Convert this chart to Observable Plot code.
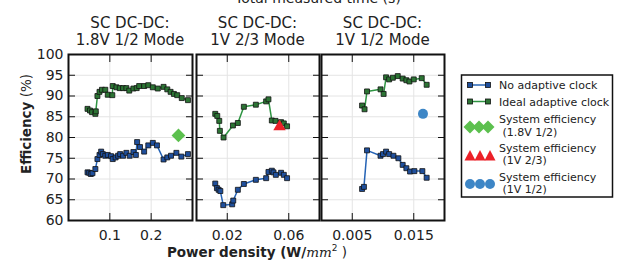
<!DOCTYPE html>
<html><head><meta charset="utf-8">
<script src="https://cdn.jsdelivr.net/npm/d3@7"></script>
<script src="https://cdn.jsdelivr.net/npm/@observablehq/plot@0.6"></script>
<style>
body{margin:0;width:622px;height:261px;overflow:hidden;background:#fff;font-family:"DejaVu Sans",sans-serif;}
#root{position:relative;width:622px;height:261px;overflow:hidden;}
.abs{position:absolute;white-space:nowrap;color:#222;}
.ttl{font-size:15px;text-align:center;line-height:17px;width:160px;}
svg{overflow:visible;}
</style></head><body><div id="root"></div>
<script>
// ---------- data ----------
const yTicks = [60, 65, 70, 75, 80, 85, 90, 95, 100];
const yTickLabels = ["60","65","70","75","80","85","90","95","100"];

const p1Title = ["SC DC-DC:", "1.8V 1/2 Mode"];
const p1XTicks = [0.1, 0.2];
const p1XTickLabels = ["0.1", "0.2"];
const p1IdealX = [0.046,0.052,0.057,0.065,0.066,0.070,0.075,0.081,0.089,0.095,0.106,0.107,0.116,0.124,0.132,0.140,0.147,0.157,0.165,0.171,0.183,0.193,0.204,0.216,0.230,0.239,0.247,0.255,0.263,0.274,0.289];
const p1IdealY = [86.9,86.5,86.1,85.7,86.3,90.0,91.0,91.5,91.5,90.3,90.2,92.4,92.1,91.9,91.9,91.9,91.3,91.8,91.9,92.4,92.4,92.6,92.1,91.8,92.2,91.6,91.0,90.5,90.2,89.5,89.0];
const p1NoAdX = [0.046,0.050,0.054,0.058,0.065,0.070,0.075,0.079,0.083,0.089,0.095,0.103,0.107,0.114,0.120,0.125,0.132,0.140,0.148,0.157,0.163,0.166,0.173,0.183,0.193,0.204,0.214,0.230,0.239,0.248,0.261,0.273,0.289];
const p1NoAdY = [71.6,71.5,71.2,71.4,72.4,74.8,75.8,76.6,76.0,75.6,75.8,75.5,74.8,75.2,75.6,76.0,75.6,76.3,75.6,76.5,75.8,78.9,77.7,76.6,78.1,78.7,78.1,74.7,75.2,75.6,76.3,75.4,76.0];
const p1SysX = [0.266];
const p1SysY = [80.5];

const p2Title = ["SC DC-DC:", "1V 2/3 Mode"];
const p2XTicks = [0.02, 0.06];
const p2XTickLabels = ["0.02", "0.06"];
const p2IdealX = [0.0122,0.0135,0.0148,0.0152,0.0176,0.0237,0.0269,0.0308,0.0386,0.0453,0.0468,0.0490,0.0514,0.0550,0.0568,0.0589];
const p2IdealY = [85.7,85.2,84.0,81.6,80.0,82.9,83.5,87.4,87.9,88.7,89.2,84.1,84.0,83.7,83.4,82.7];
const p2NoAdX = [0.0122,0.0133,0.0144,0.0155,0.0174,0.0232,0.0239,0.0269,0.0308,0.0386,0.0453,0.0468,0.0490,0.0501,0.0516,0.0550,0.0568,0.0589];
const p2NoAdY = [68.9,67.8,67.4,67.1,63.7,63.9,64.8,67.4,68.8,69.8,70.2,71.7,72.0,71.6,71.0,71.5,71.0,70.2];
const p2SysX = [0.054];
const p2SysY = [82.6];

const p3Title = ["SC DC-DC:", "1V 1/2 Mode"];
const p3XTicks = [0.005, 0.015];
const p3XTickLabels = ["0.005", "0.015"];
const p3IdealX = [0.0066,0.0070,0.0074,0.0096,0.0101,0.0105,0.0110,0.0116,0.0124,0.0132,0.0138,0.0143,0.0150,0.0163,0.0171];
const p3IdealY = [87.7,86.8,91.1,91.6,90.5,94.5,94.0,94.4,94.8,94.2,93.8,93.5,94.0,94.3,92.7];
const p3NoAdX = [0.0066,0.0069,0.0074,0.0096,0.0100,0.0105,0.0110,0.0117,0.0125,0.0132,0.0138,0.0144,0.0151,0.0164,0.0171];
const p3NoAdY = [67.6,68.1,76.9,75.6,76.0,76.6,76.0,75.6,75.0,73.4,72.6,71.8,71.9,71.9,70.3];
const p3SysX = [0.0165];
const p3SysY = [85.7];

const legendLabels = ["No adaptive clock", "Ideal adaptive clock", ["System efficiency", " (1.8V 1/2)"], ["System efficiency", " (1V 2/3)"], ["System efficiency", " (1V 1/2)"]];
const topTitle = "Total measured time (s)";
const yLabel = ["Efficiency", " (%)"];
const xLabel = ["Power density (W/", "mm", "2", " )"];

// ---------- styles ----------
const blueLine = "#2563b5", blueFill = "#1f4f9c";
const greenLine = "#2e9442", greenFill = "#2c7434";
const diamondCol = "#5cc04e", triCol = "#ec2028", circCol = "#3d86c6";
const gridCol = "#e4e4e4";

const zip = (xs, ys) => xs.map((x, i) => ({x, y: ys[i]}));

function panel(o) {
  const ideal = zip(o.idealX, o.idealY), noAd = zip(o.noAdX, o.noAdY), sys = zip(o.sysX, o.sysY);
  const fmt = (d, i) => o.xLabels[o.xTicks.indexOf(d)];
  const yfmt = (d) => yTickLabels[yTicks.indexOf(d)];
  return Plot.plot({
    width: o.width, height: 261,
    marginLeft: o.marginLeft, marginRight: 2, marginTop: 54, marginBottom: 41,
    x: {domain: o.xDomain, label: null},
    y: {domain: [60, 100], label: null},
    style: {fontFamily: "DejaVu Sans", fontSize: "14px", background: "transparent", color: "#222", overflow: "visible"},
    marks: [
      Plot.gridX(o.xTicks, {stroke: gridCol, strokeOpacity: 1, strokeWidth: 1}),
      Plot.gridY(yTicks.slice(1, -1), {stroke: gridCol, strokeOpacity: 1, strokeWidth: 1}),
      Plot.line(ideal, {x: "x", y: "y", stroke: greenLine, strokeWidth: 1.5}),
      Plot.dot(ideal, {x: "x", y: "y", symbol: "square", r: 2.8, fill: greenFill, stroke: "#111", strokeWidth: 0.8}),
      Plot.line(noAd, {x: "x", y: "y", stroke: blueLine, strokeWidth: 1.5}),
      Plot.dot(noAd, {x: "x", y: "y", symbol: "square", r: 2.8, fill: blueFill, stroke: "#111", strokeWidth: 0.8}),
      Plot.dot(sys, {x: "x", y: "y", symbol: o.sysSymbol, r: o.sysR, fill: o.sysColor, stroke: "none"}),
      Plot.axisX(o.xTicks, {anchor: "bottom", tickSize: 0, tickPadding: 10, tickFormat: fmt, fontSize: 14, label: null}),
      Plot.axisX(o.xTicks, {anchor: "bottom", tickSize: -7, fill: "none", label: null, stroke: "#111"}),
      Plot.axisX(o.xTicks, {anchor: "top", tickSize: -7, fill: "none", label: null, stroke: "#111"}),
      Plot.axisY(yTicks.slice(1, -1), {anchor: "left", tickSize: -7, fill: "none", label: null, stroke: "#111"}),
      Plot.axisY(yTicks.slice(1, -1), {anchor: "right", tickSize: -7, fill: "none", label: null, stroke: "#111"}),
      o.showY ? Plot.axisY(yTicks, {anchor: "left", tickSize: 0, tickPadding: 5, tickFormat: yfmt, fontSize: 14, label: null}) : null,
      Plot.frame({stroke: "#111", strokeWidth: 2})
    ]
  });
}

const root = document.getElementById("root");
function place(el, left, top) { el.style.position = "absolute"; el.style.left = left + "px"; el.style.top = top + "px"; root.appendChild(el); }

place(panel({idealX: p1IdealX, idealY: p1IdealY, noAdX: p1NoAdX, noAdY: p1NoAdY, sysX: p1SysX, sysY: p1SysY,
  xTicks: p1XTicks, xLabels: p1XTickLabels, xDomain: [0, 0.3], width: 194, marginLeft: 68, showY: true,
  sysSymbol: "diamond2", sysR: 6.2, sysColor: diamondCol}), 0, 0);
place(panel({idealX: p2IdealX, idealY: p2IdealY, noAdX: p2NoAdX, noAdY: p2NoAdY, sysX: p2SysX, sysY: p2SysY,
  xTicks: p2XTicks, xLabels: p2XTickLabels, xDomain: [0, 0.08], width: 127, marginLeft: 2, showY: false,
  sysSymbol: "triangle", sysR: 4.6, sysColor: triCol}), 194, 0);
place(panel({idealX: p3IdealX, idealY: p3IdealY, noAdX: p3NoAdX, noAdY: p3NoAdY, sysX: p3SysX, sysY: p3SysY,
  xTicks: p3XTicks, xLabels: p3XTickLabels, xDomain: [0, 0.02], width: 127, marginLeft: 2, showY: false,
  sysSymbol: "circle", sysR: 5, sysColor: circCol}), 319, 0);

// titles
function title(lines, cx) {
  const d = document.createElement("div");
  d.className = "abs ttl";
  d.innerHTML = lines.join("<br>");
  d.style.left = (cx - 80) + "px"; d.style.top = "15px";
  root.appendChild(d);
}
title(p1Title, 130); title(p2Title, 257.5); title(p3Title, 382.5);

const tt = document.createElement("div");
tt.className = "abs"; tt.style.cssText += "font-size:14px;left:235px;top:-10px;";
tt.textContent = topTitle; root.appendChild(tt);

// y label
const yl = document.createElement("div");
yl.className = "abs";
yl.style.cssText += "font-size:13.5px;left:26px;top:124px;transform:translate(-50%,-50%) rotate(-90deg);";
yl.innerHTML = `<b>${yLabel[0]}</b>${yLabel[1]}`;
root.appendChild(yl);

// x label
const xl = document.createElement("div");
xl.className = "abs";
xl.style.cssText += "font-size:13.5px;line-height:15px;left:257px;top:252px;transform:translate(-50%,-50%);";
xl.innerHTML = `<b>${xLabel[0]}</b><i style="font-family:'DejaVu Serif',serif;">${xLabel[1]}</i><sup style="font-size:9px;line-height:0;">${xLabel[2]}</sup>${xLabel[3]}`;
root.appendChild(xl);

// legend
const ns = "http://www.w3.org/2000/svg";
const lg = document.createElementNS(ns, "svg");
lg.setAttribute("width", 622); lg.setAttribute("height", 261);
lg.style.cssText = "position:absolute;left:0;top:0;font-family:'DejaVu Sans';font-size:11px;";
let h = `<rect x="461.5" y="75" width="151" height="122" fill="#fff" stroke="#111" stroke-width="1.5"/>`;
const sq = (x, y, f) => `<rect x="${x-2.5}" y="${y-2.5}" width="5" height="5" fill="${f}" stroke="#111" stroke-width="0.8"/>`;
h += `<line x1="470" x2="488" y1="85" y2="85" stroke="${blueLine}" stroke-width="1.5"/>` + sq(470,85,blueFill) + sq(488,85,blueFill);
h += `<line x1="470" x2="488" y1="101.5" y2="101.5" stroke="${greenLine}" stroke-width="1.5"/>` + sq(470,101.5,greenFill) + sq(488,101.5,greenFill);
const txt = (x, y, s) => `<text x="${x}" y="${y}" fill="#222" xml:space="preserve">${s}</text>`;
h += txt(499, 89, legendLabels[0]) + txt(499, 105.5, legendLabels[1]);
[470, 479, 488].forEach(x => h += `<path d="M${x},${127-6.5}L${x+6.5},127L${x},${127+6.5}L${x-6.5},127Z" fill="${diamondCol}"/>`);
h += txt(499, 123, legendLabels[2][0]) + txt(499, 136, legendLabels[2][1]);
[470, 480, 490].forEach(x => h += `<path d="M${x},150L${x+5.5},160.5L${x-5.5},160.5Z" fill="${triCol}"/>`);
h += txt(499, 151.5, legendLabels[3][0]) + txt(499, 164, legendLabels[3][1]);
[470, 480, 490].forEach(x => h += `<circle cx="${x}" cy="184" r="5" fill="${circCol}"/>`);
h += txt(499, 180.5, legendLabels[4][0]) + txt(499, 192.5, legendLabels[4][1]);
lg.innerHTML = h;
root.appendChild(lg);
</script></body></html>
